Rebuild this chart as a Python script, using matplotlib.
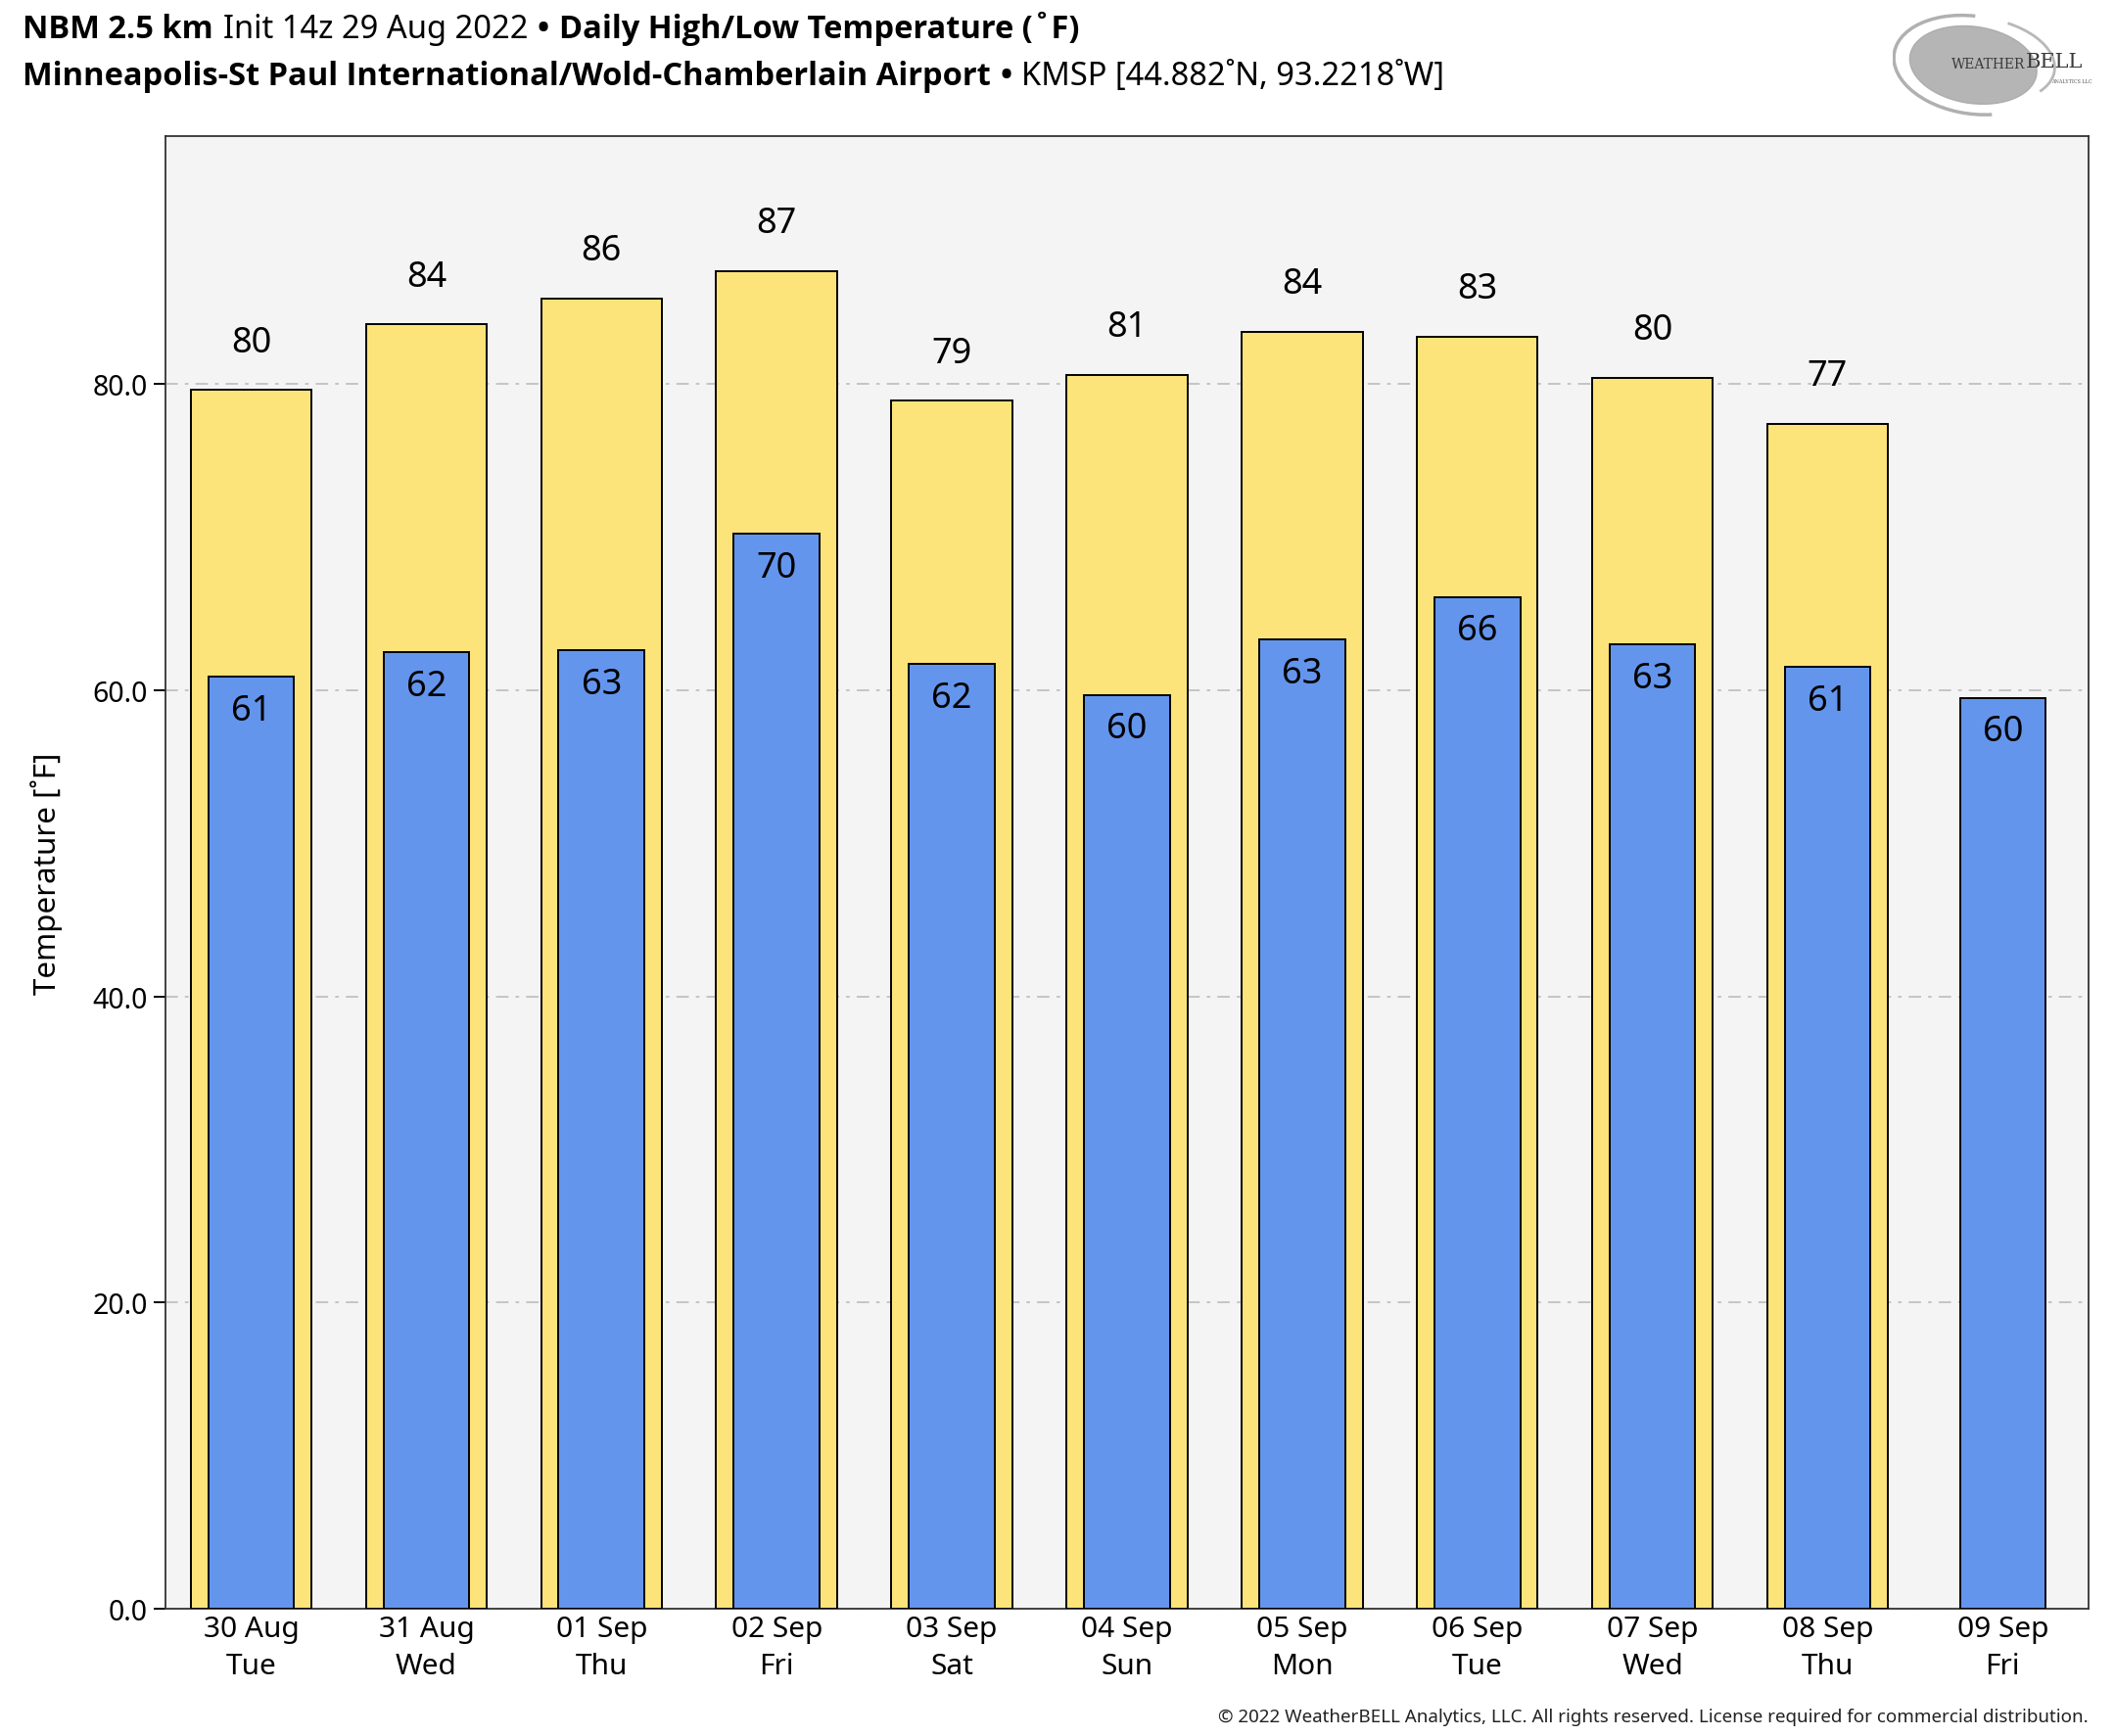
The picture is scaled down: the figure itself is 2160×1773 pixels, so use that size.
import matplotlib
matplotlib.use('Agg')
import matplotlib.pyplot as plt
from matplotlib.text import Annotation
from matplotlib.patches import Ellipse, Arc

plt.rcParams['font.family'] = ['Noto Sans', 'DejaVu Sans']

# data
days = ['30 Aug\nTue', '31 Aug\nWed', '01 Sep\nThu', '02 Sep\nFri', '03 Sep\nSat',
        '04 Sep\nSun', '05 Sep\nMon', '06 Sep\nTue', '07 Sep\nWed', '08 Sep\nThu',
        '09 Sep\nFri']
highs = [79.6, 83.9, 85.6, 87.4, 78.9, 80.6, 83.4, 83.1, 80.4, 77.4]
lows = [60.9, 62.5, 62.6, 70.2, 61.7, 59.7, 63.3, 66.1, 63.0, 61.5, 59.5]
high_labels = ['80', '84', '86', '87', '79', '81', '84', '83', '80', '77']
low_labels = ['61', '62', '63', '70', '62', '60', '63', '66', '63', '61', '60']

fig = plt.figure(figsize=(21.6, 17.74), dpi=100)
ax = fig.add_axes([0.0782, 0.0733, 0.9093, 0.8478])
ax.set_facecolor('#f4f4f4')

xh = list(range(len(highs)))
xl = list(range(len(lows)))
ax.bar(xh, highs, width=0.69, color='#fde47a', edgecolor='black', linewidth=1.4, zorder=3)
ax.bar(xl, lows, width=0.49, color='#6495ed', edgecolor='black', linewidth=1.4, zorder=4)

for x, v, t in zip(xh, highs, high_labels):
    ax.annotate(t, (x, v), xytext=(0, 35), textcoords='offset points',
                ha='center', va='center', fontsize=26, zorder=5)
for x, v, t in zip(xl, lows, low_labels):
    ax.annotate(t, (x, v), xytext=(0, -25), textcoords='offset points',
                ha='center', va='center', fontsize=26, zorder=5)

ax.set_xlim(-0.49, 10.49)
ax.set_ylim(0, 96.2)
ax.set_yticks([0, 20, 40, 60, 80])
ax.set_yticklabels(['0.0', '20.0', '40.0', '60.0', '80.0'])
ax.set_xticks(xl)
ax.set_xticklabels(days, linespacing=1.45)
ax.tick_params(axis='x', length=0, labelsize=21.5, pad=4)
ax.tick_params(axis='y', length=9, width=1.4, labelsize=20.5, pad=4)
ax.yaxis.grid(True, color='#c0c0c0', linestyle=(0, (7, 4, 2, 4)), linewidth=1.3, zorder=1)
ax.set_axisbelow(True)
for s in ax.spines.values():
    s.set_linewidth(1.3)
    s.set_color('#333333')
ax.set_ylabel('Temperature [˚F]', fontsize=22.5, labelpad=22)


def title_line(pieces, x, y, size):
    # draw pieces one after another, each starting where the last one ended
    last = None
    for txt, bold in pieces:
        fam = ['Open Sans', 'DejaVu Sans'] if bold else ['Noto Sans', 'DejaVu Sans']
        w = 'bold' if bold else 'normal'
        if last is None:
            last = fig.text(x, y, txt, fontsize=size, family=fam, fontweight=w,
                            va='center', ha='left')
        else:
            last = fig.add_artist(Annotation(
                txt, xy=(1, 0), xycoords=last, xytext=(7, 0), textcoords='offset points',
                fontsize=size, family=fam, fontweight=w, va='bottom', ha='left'))


title_line([('NBM 2.5 km', True), ('Init 14z 29 Aug 2022', False), ('•', True),
            ('Daily High/Low Temperature (˚F)', True)], 0.0107, 0.983, 23.5)
title_line([('Minneapolis-St Paul International/Wold-Chamberlain Airport', True),
            ('•', True), ('KMSP [44.882˚N, 93.2218˚W]', False)], 0.0107, 0.9555, 23.5)

fig.text(0.9875, 0.0115, '© 2022 WeatherBELL Analytics, LLC. All rights reserved. '
         'License required for commercial distribution.', fontsize=13.5, ha='right',
         va='center', color='#222222')

# logo
lax = fig.add_axes([0.895, 0.932, 0.095, 0.06])
lax.set_xlim(0, 10)
lax.set_ylim(0, 6)
lax.axis('off')
lax.add_patch(Ellipse((4.0, 3.0), 6.4, 4.4, angle=-12, color='#a8a8a8', alpha=0.85))
lax.add_patch(Arc((4.0, 3.0), 8.0, 5.6, angle=-12, theta1=100, theta2=300, color='#b0b0b0', lw=2.5))
lax.add_patch(Arc((4.4, 3.3), 7.4, 4.8, angle=-12, theta1=-20, theta2=70, color='#b8b8b8', lw=2))
lax.text(6.6, 3.1, 'WEATHER', fontsize=10, family='DejaVu Serif', color='#3a3a3a',
         ha='right', va='center')
lax.text(6.6, 3.2, 'BELL', fontsize=15, family='DejaVu Serif', color='#3a3a3a',
         ha='left', va='center')
lax.text(9.9, 2.1, 'ANALYTICS LLC', fontsize=3.5, family='DejaVu Serif', color='#555555',
         ha='right', va='center')

fig.savefig('out.png', dpi=100)
